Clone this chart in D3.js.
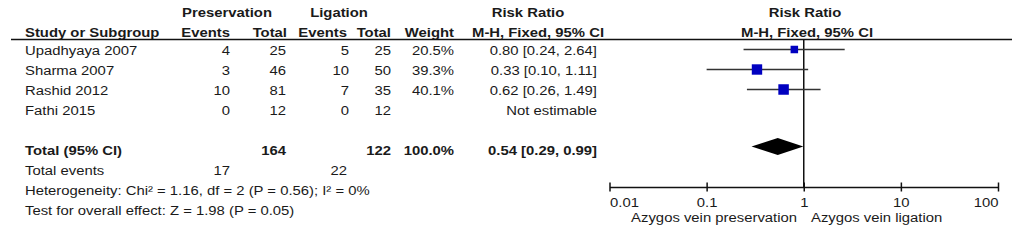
<!DOCTYPE html>
<html>
<head>
<meta charset="utf-8">
<script src="https://cdn.jsdelivr.net/npm/d3@7"></script>
<style>
  html, body { margin: 0; padding: 0; background: #fff; }
  svg text { font-family: 'Liberation Sans', Arial, sans-serif; font-size: 13.5px; fill: #1a1a1a; }
  .b { font-weight: bold; }
</style>
</head>
<body>
<div id="chart"></div>
<script>
const studies = ['Upadhyaya 2007', 'Sharma 2007', 'Rashid 2012', 'Fathi 2015']
const presEvents = [4, 3, 10, 0]
const presTotal = [25, 46, 81, 12]
const ligEvents = [5, 10, 7, 0]
const ligTotal = [25, 50, 35, 12]
const weights = [20.5, 39.3, 40.1, null]
const rr = [0.80, 0.33, 0.62, null]
const rrLow = [0.24, 0.10, 0.26, null]
const rrHigh = [2.64, 1.11, 1.49, null]

const totalPres = 164
const totalLig = 122
const totalPresEvents = 17
const totalLigEvents = 22
const totalRR = 0.54
const totalLow = 0.29
const totalHigh = 0.99

const axisTicks = [0.01, 0.1, 1, 10, 100]

const W = 1020
const H = 240
const SX = 1.1 // source text is slightly stretched horizontally

const svg = d3.select('#chart').append('svg').attr('width', W).attr('height', H)

const x = d3.scaleLog().domain([0.01, 100]).range([609.5, 998])
const y = d3.scalePoint().domain(studies).range([55, 115])
const boxSize = d3.scaleSqrt().domain([0, d3.max(weights)]).range([0, 10.5])

const fmt2 = d3.format('.2f')
const fmtW = d => d.toFixed(1) + '%'

function txt (x0, y0, s, anchor = 'start', bold = false) {
  return svg.append('text')
    .attr('transform', `translate(${x0},${y0}) scale(${SX},1)`)
    .attr('text-anchor', anchor)
    .classed('b', bold)
    .text(s)
}

// headers
txt(227, 17, 'Preservation', 'middle', true)
txt(339, 17, 'Ligation', 'middle', true)
txt(528, 17, 'Risk Ratio', 'middle', true)
txt(805, 17, 'Risk Ratio', 'middle', true)

txt(25, 36.5, 'Study or Subgroup', 'start', true)
txt(230, 36.5, 'Events', 'end', true)
txt(287, 36.5, 'Total', 'end', true)
txt(347, 36.5, 'Events', 'end', true)
txt(391, 36.5, 'Total', 'end', true)
txt(454, 36.5, 'Weight', 'end', true)
txt(538, 36.5, 'M-H, Fixed, 95% CI', 'middle', true)
txt(807, 36.5, 'M-H, Fixed, 95% CI', 'middle', true)

svg.append('line')
  .attr('x1', 11).attr('x2', 1012).attr('y1', 39.5).attr('y2', 39.5)
  .attr('stroke', '#111').attr('stroke-width', 1.5)

// study rows
studies.forEach((s, i) => {
  const yy = y(s)
  txt(25, yy, s)
  txt(230, yy, presEvents[i], 'end')
  txt(286, yy, presTotal[i], 'end')
  txt(349, yy, ligEvents[i], 'end')
  txt(391, yy, ligTotal[i], 'end')
  if (weights[i] !== null) {
    txt(454, yy, fmtW(weights[i]), 'end')
    txt(597, yy, `${fmt2(rr[i])} [${fmt2(rrLow[i])}, ${fmt2(rrHigh[i])}]`, 'end')
  } else {
    txt(597, yy, 'Not estimable', 'end')
  }
})

// totals
const yTot = 155
txt(25, yTot, 'Total (95% CI)', 'start', true)
txt(286, yTot, totalPres, 'end', true)
txt(391, yTot, totalLig, 'end', true)
txt(454, yTot, '100.0%', 'end', true)
txt(597, yTot, `${fmt2(totalRR)} [${fmt2(totalLow)}, ${fmt2(totalHigh)}]`, 'end', true)
txt(25, 175, 'Total events')
txt(230, 175, totalPresEvents, 'end')
txt(347, 175, totalLigEvents, 'end')
txt(25, 195, 'Heterogeneity: Chi\u00b2 = 1.16, df = 2 (P = 0.56); I\u00b2 = 0%')
txt(25, 215, 'Test for overall effect: Z = 1.98 (P = 0.05)')

// forest plot
const axisY = 187
const plot = svg.append('g')

plot.append('line')
  .attr('x1', x(1)).attr('x2', x(1)).attr('y1', 39.5).attr('y2', axisY)
  .attr('stroke', '#111').attr('stroke-width', 1.5)

const rows = studies.map((s, i) => ({ s, rr: rr[i], lo: rrLow[i], hi: rrHigh[i], w: weights[i] }))
  .filter(d => d.rr !== null)

plot.selectAll('.ci').data(rows).join('line')
  .attr('class', 'ci')
  .attr('x1', d => x(d.lo)).attr('x2', d => x(d.hi))
  .attr('y1', d => y(d.s) - 5.5).attr('y2', d => y(d.s) - 5.5)
  .attr('stroke', '#333').attr('stroke-width', 1.5)

plot.selectAll('.box').data(rows).join('rect')
  .attr('class', 'box')
  .attr('x', d => x(d.rr) - boxSize(d.w) / 2)
  .attr('y', d => y(d.s) - 5.5 - boxSize(d.w) / 2)
  .attr('width', d => boxSize(d.w))
  .attr('height', d => boxSize(d.w))
  .attr('fill', '#0000c0')

const dy = yTot - 8.5
plot.append('path')
  .attr('d', `M${x(totalLow)},${dy} L${x(totalRR)},${dy - 8.5} L${x(totalHigh)},${dy} L${x(totalRR)},${dy + 8.5} Z`)
  .attr('fill', '#000')

// axis
const axis = d3.axisBottom(x)
  .tickValues(axisTicks)
  .tickFormat(d => String(d))
  .tickSizeOuter(0)
  .tickSizeInner(4.5)
  .tickPadding(0)

const gAxis = svg.append('g')
  .attr('transform', `translate(0,${axisY})`)
  .call(axis)

gAxis.attr('font-family', null).attr('font-size', null)
gAxis.select('.domain').attr('stroke', '#111').attr('stroke-width', 1.5)
gAxis.selectAll('.tick line').attr('y1', -4.5).attr('y2', 4.5).attr('stroke', '#111').attr('stroke-width', 1.5)
gAxis.selectAll('.tick text')
  .attr('y', 20).attr('dy', null).attr('x', 0)
  .attr('transform', `scale(${SX},1)`)
  .attr('text-anchor', (d, i) => i === 0 ? 'start' : (i === axisTicks.length - 1 ? 'end' : 'middle'))

txt(797, 222, 'Azygos vein preservation', 'end')
txt(811, 222, 'Azygos vein ligation', 'start')
</script>
</body>
</html>
